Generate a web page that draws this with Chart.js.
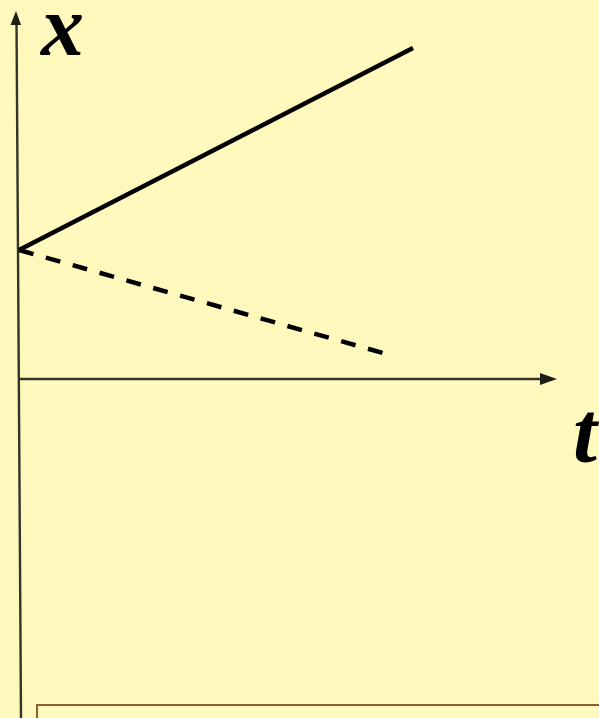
<!DOCTYPE html>
<html>
<head>
<meta charset="utf-8">
<script src="https://cdn.jsdelivr.net/npm/chart.js@4.4.1/dist/chart.umd.min.js"></script>
<style>
  html, body { margin: 0; padding: 0; background: #FFF9BE; overflow: hidden; }
  #wrap { position: absolute; left: 0; top: 0; width: 599px; height: 718px; }
  #box { position: absolute; left: 36px; top: 704px; width: 600px; height: 40px;
         border: 2.5px solid #8C5F2E; background: #FFF9C0; box-sizing: border-box; }
</style>
</head>
<body>
<div id="wrap"><canvas id="c" width="599" height="718"></canvas></div>
<div id="box"></div>
<script>
// Values (t in arbitrary units, x in arbitrary units)
const solidT = [0, 9.85];
const solidX = [1.29, 3.31];
const dashedT = [0, 9.1];
const dashedX = [1.29, 0.26];
const axisLabels = ['x', 't'];

const toPts = (ts, xs) => ts.map((t, i) => ({ x: t, y: xs[i] }));

const axesPlugin = {
  id: 'axesPlugin',
  beforeDatasetsDraw(chart) {
    const ctx = chart.ctx;
    const sx = chart.scales.x, sy = chart.scales.y;
    const ox = sx.getPixelForValue(0);
    const oy = sy.getPixelForValue(0);
    ctx.save();
    ctx.strokeStyle = '#35352c';
    ctx.fillStyle = '#1e1e18';
    ctx.lineWidth = 2.4;
    // vertical axis (slightly slanted as in the reference)
    ctx.beginPath();
    ctx.moveTo(ox - 2.5, 20);
    ctx.lineTo(ox + 2, 718);
    ctx.stroke();
    // top arrow head
    ctx.beginPath();
    ctx.moveTo(ox - 3, 11);
    ctx.lineTo(ox - 8.5, 25);
    ctx.lineTo(ox + 2, 25);
    ctx.closePath();
    ctx.fill();
    // horizontal axis
    ctx.beginPath();
    ctx.moveTo(ox, oy);
    ctx.lineTo(542, oy);
    ctx.stroke();
    // right arrow head
    ctx.beginPath();
    ctx.moveTo(557, oy);
    ctx.lineTo(540, oy - 6);
    ctx.lineTo(540, oy + 6);
    ctx.closePath();
    ctx.fill();
    ctx.restore();
  },
  afterDatasetsDraw(chart) {
    const ctx = chart.ctx;
    ctx.save();
    ctx.fillStyle = '#000';
    ctx.font = 'italic bold 86px "Liberation Serif", "DejaVu Serif", serif';
    ctx.textBaseline = 'alphabetic';
    ctx.fillText(axisLabels[0], 41, 55);
    ctx.fillText(axisLabels[1], 573, 462);
    ctx.restore();
  }
};

new Chart(document.getElementById('c'), {
  type: 'scatter',
  data: {
    datasets: [
      { data: toPts(solidT, solidX), showLine: true, borderColor: '#000', borderWidth: 4.5,
        pointRadius: 0, borderCapStyle: 'butt', fill: false },
      { data: toPts(dashedT, dashedX), showLine: true, borderColor: '#000', borderWidth: 4.5,
        borderDash: [15, 12.9], pointRadius: 0, borderCapStyle: 'butt', fill: false }
    ]
  },
  options: {
    responsive: false,
    animation: false,
    events: [],
    layout: { padding: 0 },
    plugins: { legend: { display: false }, tooltip: { enabled: false } },
    scales: {
      x: { type: 'linear', display: false, min: -0.475, max: 14.5 },
      y: { type: 'linear', display: false, min: -3.39, max: 3.79 }
    }
  },
  plugins: [axesPlugin]
});
</script>
</body>
</html>
